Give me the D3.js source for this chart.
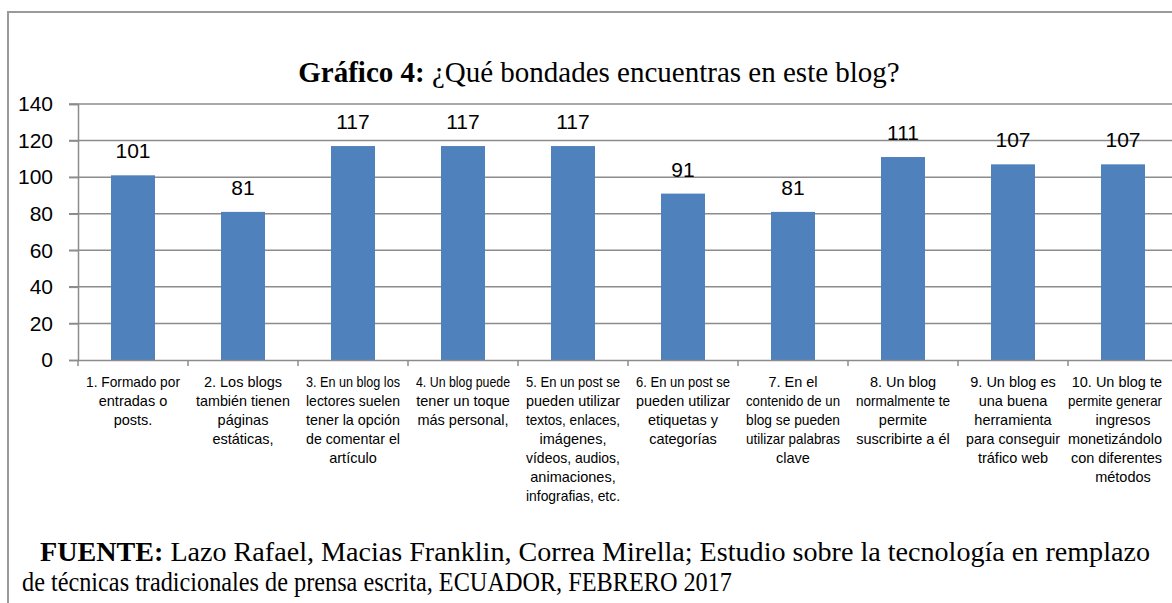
<!DOCTYPE html>
<html>
<head>
<meta charset="utf-8">
<script src="https://cdn.jsdelivr.net/npm/d3@7"></script>
<style>
  html, body { margin: 0; padding: 0; background: #fff; }
  svg { display: block; }
</style>
</head>
<body>
<script>
const categories = ["1","2","3","4","5","6","7","8","9","10"];
const values = [101, 81, 117, 117, 117, 91, 81, 111, 107, 107];
const categoryLabels = [
  ["1. Formado por", "entradas o", "posts."],
  ["2. Los blogs", "también tienen", "páginas", "estáticas,"],
  ["3. En un blog los", "lectores suelen", "tener la opción", "de comentar el", "artículo"],
  ["4. Un blog puede", "tener un toque", "más personal,"],
  ["5. En un post se", "pueden utilizar", "textos, enlaces,", "imágenes,", "vídeos, audios,", "animaciones,", "infografias, etc."],
  ["6. En un  post se", "pueden utilizar", "etiquetas y", "categorías"],
  ["7. En el", "contenido de un", "blog se pueden", "utilizar palabras", "clave"],
  ["8. Un blog", "normalmente te", "permite", "suscribirte a él"],
  ["9. Un blog es", "una buena", "herramienta", "para conseguir", "tráfico web"],
  ["10. Un blog te", "permite generar", "ingresos", "monetizándolo", "con diferentes", "métodos"]
];
const yTicks = [0, 20, 40, 60, 80, 100, 120, 140];
const titleBold = "Gráfico 4:";
const titleRest = " ¿Qué bondades encuentras en este blog?";
const sourceBold = "FUENTE:";
const sourceLine1 = " Lazo Rafael, Macias Franklin, Correa Mirella; Estudio sobre la tecnología en  remplazo";
const sourceLine2 = "de técnicas tradicionales de prensa escrita, ECUADOR, FEBRERO 2017";

const W = 1172, H = 603;
const svg = d3.select("body").append("svg").attr("width", W).attr("height", H);

// outer frame
svg.append("rect").attr("x", 8).attr("y", 12).attr("width", 1300).attr("height", 800)
  .attr("fill", "none").attr("stroke", "#9a9a9a").attr("stroke-width", 2);

const x0 = 78, x1 = 1178;
const y = d3.scaleLinear().domain([0, 140]).range([360, 104]);
const xBand = d3.scaleBand().domain(categories).range([x0, x1]).paddingInner(0.6).paddingOuter(0.3);
const xCat = d3.scaleBand().domain(categories).range([x0, x1]).padding(0);

const gridColor = "#8c8c8c";
// gridlines
svg.append("g").selectAll("line").data(yTicks.filter(d => d > 0)).join("line")
  .attr("x1", 69).attr("x2", x1).attr("y1", d => y(d)).attr("y2", d => y(d))
  .attr("stroke", gridColor).attr("stroke-width", 1.5);

// y axis
const yAxis = d3.axisLeft(y).tickValues(yTicks).tickSize(9).tickPadding(16);
const gy = svg.append("g").attr("transform", `translate(${x0},0)`).call(yAxis);
gy.select(".domain").attr("stroke", gridColor).attr("stroke-width", 1.5);
gy.selectAll(".tick line").attr("stroke", gridColor).attr("stroke-width", 1.5);
gy.selectAll(".tick text").attr("font-family", "'Liberation Sans', Arial, sans-serif")
  .attr("font-size", 21).attr("fill", "#000");

// bars
svg.append("g").selectAll("rect").data(values).join("rect")
  .attr("x", (d, i) => xBand(categories[i]))
  .attr("width", xBand.bandwidth())
  .attr("y", d => y(d))
  .attr("height", d => y(0) - y(d))
  .attr("fill", "#4f81bd");

// x axis
const xAxis = d3.axisBottom(xCat).tickValues([]).tickSizeOuter(0);
const gx = svg.append("g").attr("transform", `translate(0,${y(0)})`).call(xAxis);
gx.select(".domain").attr("stroke", gridColor).attr("stroke-width", 1.5);
// category boundary ticks
gx.selectAll("line.bt").data(categories).join("line").attr("class", "bt")
  .attr("x1", d => xCat(d)).attr("x2", d => xCat(d)).attr("y1", 0).attr("y2", 6)
  .attr("stroke", gridColor).attr("stroke-width", 1.5);

// data labels
svg.append("g").selectAll("text").data(values).join("text")
  .attr("x", (d, i) => xBand(categories[i]) + xBand.bandwidth() / 2)
  .attr("y", d => y(d) - 17)
  .attr("text-anchor", "middle")
  .attr("font-family", "'Liberation Sans', Arial, sans-serif")
  .attr("font-size", 21).attr("fill", "#000")
  .text(d => d);

// category labels (one text element per line)
const labG = svg.append("g");
const maxRight = 1162;
categoryLabels.forEach((lines, i) => {
  const cx = xCat(categories[i]) + xCat.bandwidth() / 2;
  lines.forEach((line, j) => {
    const tx = labG.append("text")
      .attr("x", cx).attr("y", 387 + j * 19)
      .attr("text-anchor", "middle")
      .attr("font-family", "'Liberation Sans', Arial, sans-serif")
      .attr("font-size", 14.5).attr("fill", "#000")
      .text(line);
    let len = tx.node().getComputedTextLength();
    if (len > 94) { len = 94; tx.attr("textLength", 94).attr("lengthAdjust", "spacingAndGlyphs"); }
    if (cx + len / 2 > maxRight) tx.attr("x", maxRight - len / 2);
  });
});

// title
const t = svg.append("text").attr("x", 599).attr("y", 82).attr("text-anchor", "middle")
  .attr("font-family", "'Liberation Serif', 'Times New Roman', serif").attr("font-size", 29).attr("fill", "#000");
t.append("tspan").attr("font-weight", "bold").text(titleBold);
t.append("tspan").text(titleRest);

// source
const s1 = svg.append("text").attr("x", 40).attr("y", 561)
  .attr("font-family", "'Liberation Serif', 'Times New Roman', serif").attr("font-size", 27).attr("fill", "#000")
  .attr("textLength", 1110).attr("lengthAdjust", "spacingAndGlyphs");
s1.append("tspan").attr("font-weight", "bold").text(sourceBold);
s1.append("tspan").text(sourceLine1);
svg.append("text").attr("x", 22).attr("y", 591)
  .attr("font-family", "'Liberation Serif', 'Times New Roman', serif").attr("font-size", 27).attr("fill", "#000")
  .attr("textLength", 710).attr("lengthAdjust", "spacingAndGlyphs")
  .text(sourceLine2);
</script>
</body>
</html>
